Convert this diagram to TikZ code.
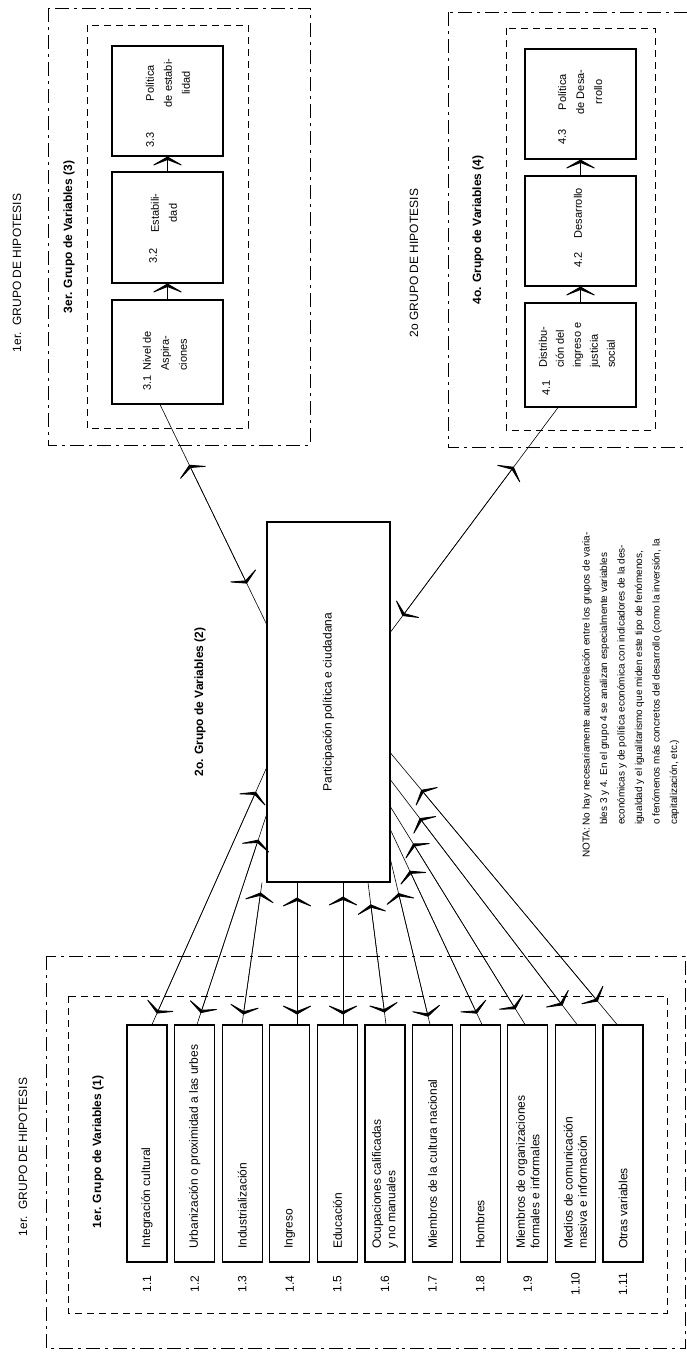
\documentclass[tikz,border=0pt]{standalone}
\usepackage{fontspec}
\setmainfont{Liberation Sans}
\usetikzlibrary{arrows.meta}
\begin{document}
\begin{tikzpicture}[x=1pt,y=-1pt,
  vbox/.style={draw,line width=1.1pt,inner sep=0pt},
  vtext/.style={rotate=90,inner sep=0pt,font=\fontsize{12}{14.4}\selectfont},
  vbold/.style={rotate=90,inner sep=0pt,font=\bfseries\fontsize{12}{14.4}\selectfont},
  vsmall/.style={rotate=90,inner sep=0pt,font=\fontsize{11}{18}\selectfont},
  hypframe/.style={line width=0.9pt,dash pattern=on 14pt off 5pt on 3pt off 5pt},
  varframe/.style={line width=0.9pt,dash pattern=on 7pt off 5pt},
  link/.style={line width=0.6pt},
  bi/.style 2 args={{Stealth[length=11pt,width=38pt,inset=7.5pt,line width=0.9pt,round]}-{Stealth[length=11pt,width=38pt,inset=7.5pt,line width=0.9pt,round]},shorten <=#1,shorten >=#2},
  fwd/.style={-{Stealth[length=11pt,width=38pt,inset=7.5pt,line width=0.9pt,round]}}]
\useasboundingbox (0,0) rectangle (687,1357);
\fill[white] (0,0) rectangle (687,1357);
\clip (0,0) rectangle (687,1357);

% frames
\draw[hypframe] (48,8) rectangle (310,445);
\draw[varframe] (87,25) rectangle (248,428);
\draw[hypframe] (448,12) rectangle (700,447);
\draw[varframe] (506,28) rectangle (655,430);
\draw[hypframe] (46,956) rectangle (685,1348);
\draw[varframe] (68,996) rectangle (667,1313);

% titles
\node[vtext] (h1) at (17,273) {1er.\ \ GRUPO DE HIPOTESIS};
\node[vbold] (t3) at (69,237) {3er. Grupo de Variables (3)};
\node[vtext] (h2) at (414,263) {2o GRUPO DE HIPOTESIS};
\node[vbold] (t4) at (478,230) {4o. Grupo de Variables (4)};
\node[vbold] (t2) at (200,702) {2o. Grupo de Variables (2)};
\node[vtext] (h1b) at (23,1157) {1er.\ \ GRUPO DE HIPOTESIS};
\node[vbold] (t1) at (98,1152) {1er. Grupo de Variables (1)};

% group 3
\node[vbox,minimum width=111,minimum height=104] (g31) at (167.5,352) {};
\node[vbox,minimum width=111,minimum height=111] (g32) at (167.5,227.5) {};
\node[vbox,minimum width=111,minimum height=110] (g33) at (167.5,101) {};
\node[vsmall] (n31) at (147,383) {3.1};
\node[vsmall,anchor=west,align=left] (x31) at (165,371) {Nivel de\\Aspira-\\ciones};
\node[vsmall] (n32) at (153,256) {3.2};
\node[vsmall,align=center] (x32) at (164,213) {Estabili-\\dad};
\node[vsmall] (n33) at (150,140) {3.3};
\node[vsmall,align=center] (x33) at (168,83) {Política\\de estabi-\\lidad};

% group 4
\node[vbox,minimum width=111,minimum height=104] (g41) at (580.5,355) {};
\node[vbox,minimum width=111,minimum height=110] (g42) at (580.5,231) {};
\node[vbox,minimum width=111,minimum height=110] (g43) at (580.5,104) {};
\node[vsmall] (n41) at (546,388) {4.1};
\node[vsmall,anchor=west,align=left,font=\fontsize{11}{17}\selectfont] (x41) at (577,368) {Distribu-\\ción del\\ingreso e\\justicia\\social};
\node[vsmall] (n42) at (578,260) {4.2};
\node[vsmall] (x42) at (578,213) {Desarrollo};
\node[vsmall] (n43) at (562,137) {4.3};
\node[vsmall,align=center] (x43) at (580,92) {Política\\de Desa-\\rrollo};

% central box
\node[vbox,minimum width=123,minimum height=360,font=\fontsize{12}{14.4}\selectfont] (c) at (328.5,702) {\rotatebox{90}{Participación política e ciudadana}};

% group 1 boxes
\node[vbox,minimum width=40,minimum height=237] (v1) at (147,1143.5) {};
\node[vbox,minimum width=40,minimum height=237] (v2) at (194.6,1143.5) {};
\node[vbox,minimum width=40,minimum height=237] (v3) at (242.2,1143.5) {};
\node[vbox,minimum width=40,minimum height=237] (v4) at (289.8,1143.5) {};
\node[vbox,minimum width=40,minimum height=237] (v5) at (337.4,1143.5) {};
\node[vbox,minimum width=40,minimum height=237] (v6) at (385,1143.5) {};
\node[vbox,minimum width=40,minimum height=237] (v7) at (432.6,1143.5) {};
\node[vbox,minimum width=40,minimum height=237] (v8) at (480.2,1143.5) {};
\node[vbox,minimum width=40,minimum height=237] (v9) at (527.8,1143.5) {};
\node[vbox,minimum width=40,minimum height=237] (v10) at (575.4,1143.5) {};
\node[vbox,minimum width=40,minimum height=237] (v11) at (623,1143.5) {};

\node[vtext,anchor=west,align=left] (x1) at (147,1249) {Integración cultural};
\node[vtext,anchor=west,align=left] (x2) at (194.6,1249) {Urbanización o proximidad a las urbes};
\node[vtext,anchor=west,align=left] (x3) at (242.2,1249) {Industrialización};
\node[vtext,anchor=west,align=left] (x4) at (289.8,1249) {Ingreso};
\node[vtext,anchor=west,align=left] (x5) at (337.4,1249) {Educación};
\node[vtext,anchor=west,align=left] (x6) at (385,1249) {Ocupaciones calificadas\\y no manuales};
\node[vtext,anchor=west,align=left] (x7) at (432.6,1249) {Miembros de la cultura nacional};
\node[vtext,anchor=west,align=left] (x8) at (480.2,1249) {Hombres};
\node[vtext,anchor=west,align=left] (x9) at (527.8,1249) {Miembros de organizaciones\\formales e informales};
\node[vtext,anchor=west,align=left] (x10) at (575.4,1249) {Medios de comunicación\\masiva e información};
\node[vtext,anchor=west,align=left] (x11) at (623,1249) {Otras variables};

\node[vtext] (n1) at (147,1284) {1.1};
\node[vtext] (n2) at (194.6,1284) {1.2};
\node[vtext] (n3) at (242.2,1284) {1.3};
\node[vtext] (n4) at (289.8,1284) {1.4};
\node[vtext] (n5) at (337.4,1284) {1.5};
\node[vtext] (n6) at (385,1284) {1.6};
\node[vtext] (n7) at (432.6,1284) {1.7};
\node[vtext] (n8) at (480.2,1284) {1.8};
\node[vtext] (n9) at (527.8,1284) {1.9};
\node[vtext] (n10) at (575.4,1284) {1.10};
\node[vtext] (n11) at (623,1284) {1.11};

% connectors group 1 <-> central
\draw[link] (c.west |- 0,768) -- (v1.north -| 152,0);
\draw[link,bi={26pt}{12pt}] (c.west |- 0,768) -- (v1.north -| 152,0);
\draw[link] (c.west |- 0,815) -- (v2.north -| 197,0);
\draw[link,bi={26pt}{12pt}] (c.west |- 0,815) -- (v2.north -| 197,0);
\draw[link] (c.south -| 262,0) -- (v3.north -| 242,0);
\draw[link,bi={10pt}{10pt}] (c.south -| 262,0) -- (v3.north -| 242,0);
\draw[link] (c.south -| 297,0) -- (v4.north -| 297,0);
\draw[link,bi={15pt}{10pt}] (c.south -| 297,0) -- (v4.north -| 297,0);
\draw[link] (c.south -| 343,0) -- (v5.north -| 343,0);
\draw[link,bi={14pt}{10pt}] (c.south -| 343,0) -- (v5.north -| 343,0);
\draw[link] (c.south -| 368,0) -- (v6.north -| 386,0);
\draw[link,bi={22pt}{12pt}] (c.south -| 368,0) -- (v6.north -| 386,0);
\draw[link] (c.east |- 0,860) -- (v7.north -| 430,0);
\draw[link,bi={34pt}{8pt}] (c.east |- 0,860) -- (v7.north -| 430,0);
\draw[link] (c.east |- 0,830) -- (v8.north -| 482,0);
\draw[link,bi={45pt}{12pt}] (c.east |- 0,830) -- (v8.north -| 482,0);
\draw[link] (c.east |- 0,807) -- (v9.north -| 525,0);
\draw[link,bi={43pt}{18pt}] (c.east |- 0,807) -- (v9.north -| 525,0);
\draw[link] (c.east |- 0,780) -- (v10.north -| 577,0);
\draw[link,bi={48pt}{24pt}] (c.east |- 0,780) -- (v10.north -| 577,0);
\draw[link] (c.east |- 0,753) -- (v11.north -| 617,0);
\draw[link,bi={48pt}{30pt}] (c.east |- 0,753) -- (v11.north -| 617,0);

% connectors to groups 3 and 4
\draw[link] (g31.south -| 160,0) -- (c.west |- 0,624);
\draw[link,bi={67pt}{45pt}] (g31.south -| 160,0) -- (c.west |- 0,624);
\draw[link] (c.east |- 0,632) -- (g41.south -| 558,0);
\draw[link,bi={20pt}{74pt}] (c.east |- 0,632) -- (g41.south -| 558,0);

% internal arrows
\draw[link,fwd] (g31.north) -- (g32.south);
\draw[link,fwd] (g32.north) -- (g33.south);
\draw[link,fwd] (g41.north) -- (g42.south);
\draw[link,fwd] (g42.north) -- (g43.south);

% note
\node[rotate=90,anchor=north west,inner sep=0pt,align=left,font=\fontsize{10}{17.5}\selectfont] (nota) at (582,858) {NOTA: No hay necesariamente autocorrelación entre los grupos de varia-\\\hspace*{33pt}bles 3 y 4. En el grupo 4 se analizan especialmente variables\\\hspace*{33pt}económicas y de política económica con indicadores de la des-\\\hspace*{33pt}igualdad y el igualitarismo que miden este tipo de fenómenos,\\\hspace*{33pt}o fenómenos más concretos del desarrollo (como la inversión, la\\\hspace*{33pt}capitalización, etc.)};
\end{tikzpicture}
\end{document}
